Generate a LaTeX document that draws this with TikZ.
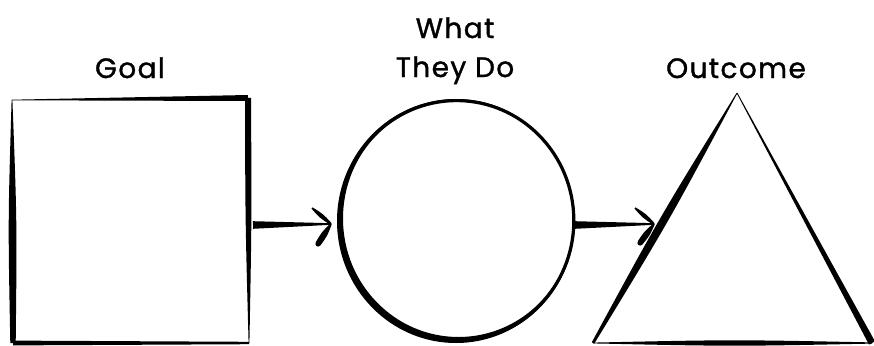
\documentclass[tikz,border=0pt]{standalone}
\usepackage{fontspec}
\newfontfamily\lblfont[FakeBold=1.2,LetterSpace=5]{Poppins}
\usetikzlibrary{calc}
\newcommand\brush[5]{%
  \path coordinate (bm) at ($(#1)!0.5!(#2)$);
  \fill ($(#1)!#3!90:(#2)$) .. controls ($(bm)!#4!90:(#2)$) .. ($(#2)!#5!-90:(#1)$)
     -- ($(#2)!#5!90:(#1)$) .. controls ($(bm)!#4!-90:(#2)$) .. ($(#1)!#3!-90:(#2)$) -- cycle;}
\tikzset{lbl/.style={anchor=base, inner sep=0pt, font=\lblfont\fontsize{28}{34}\selectfont}}
\begin{document}
\begin{tikzpicture}[x=1pt,y=-1pt]
\useasboundingbox (0,0) rectangle (874,345);
\fill[white] (0,0) rectangle (874,345);
% labels
\node[lbl] (tgoal) at (130,78) {Goal};
\node[lbl] (twhat) at (455,38) {What};
\node[lbl] (tdo) at (455,77) {They Do};
\node[lbl] (tout) at (736,78) {Outcome};
% square (goal)
\node[minimum width=236pt, minimum height=244pt, inner sep=0pt] (goal) at (130,221) {};
\coordinate (sqTL) at (12,100);
\coordinate (sqTR) at (248,98);
\coordinate (sqBR) at (249,343);
\coordinate (sqBL) at (13,343);
\brush{sqTL}{sqTR}{0.3pt}{2.2pt}{3pt}
\brush{sqTL}{sqBL}{0.4pt}{4.5pt}{2.7pt}
\brush{sqTR}{sqBR}{3pt}{3.2pt}{0.4pt}
\brush{sqBL}{sqBR}{2.4pt}{2.2pt}{1.2pt}
% circle (what they do)
\node[circle, minimum size=237pt, inner sep=0pt] (do) at (456,221) {};
\fill[even odd rule] (456,221) ellipse [x radius=119, y radius=122]
                     (458.5,218.5) ellipse [x radius=115.5, y radius=118.5];
\draw[line width=3.2pt] (456.6,220.6) ellipse [x radius=117.2, y radius=120];
% triangle (outcome)
\coordinate (trA) at (737,93);
\coordinate (trL) at (593,343);
\coordinate (trR) at (872,343);
\brush{trA}{trL}{0.4pt}{5pt}{1.4pt}
\brush{trA}{trR}{0.4pt}{2pt}{3.4pt}
\brush{trL}{trR}{0.4pt}{3.4pt}{0.6pt}
% arrow 1
\coordinate (a1s) at (253,225);
\coordinate (a1t) at (331,224);
\coordinate (a1u) at (312,208);
\coordinate (a1d) at (318,244);
\brush{a1s}{a1t}{3.8pt}{2.4pt}{0.8pt}
\brush{a1u}{a1t}{0.8pt}{2.6pt}{1pt}
\brush{a1t}{a1d}{0.8pt}{3.4pt}{2.8pt}
\fill (a1d) circle (2.6pt);
% arrow 2
\coordinate (a2s) at (575,225);
\coordinate (a2t) at (654,224);
\coordinate (a2u) at (635,208);
\coordinate (a2d) at (640,243);
\brush{a2s}{a2t}{3.8pt}{2.4pt}{0.8pt}
\brush{a2u}{a2t}{0.8pt}{2.6pt}{1pt}
\brush{a2t}{a2d}{0.8pt}{3.4pt}{2.8pt}
\fill (a2d) circle (2.6pt);
\end{tikzpicture}
\end{document}
